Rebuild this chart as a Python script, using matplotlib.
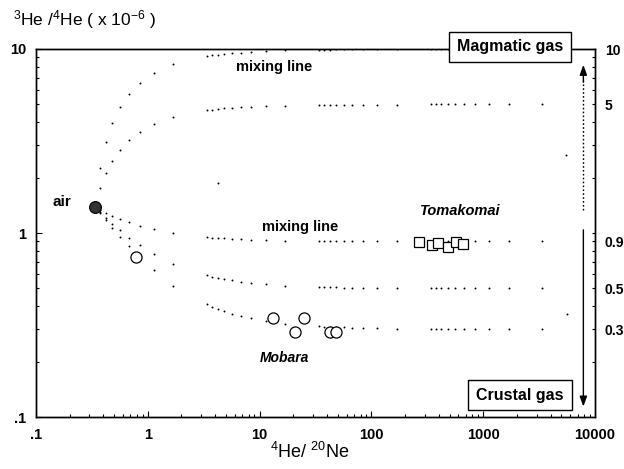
import matplotlib
matplotlib.use("Agg")
import matplotlib.pyplot as plt

plt.rcParams["font.family"] = ["Liberation Sans", "DejaVu Sans"]
plt.rcParams["mathtext.fontset"] = "custom"
plt.rcParams["mathtext.rm"] = "Liberation Sans"
plt.rcParams["mathtext.it"] = "Liberation Sans:italic"
plt.rcParams["mathtext.bf"] = "Liberation Sans:bold"

# abscisses des points des courbes de mélange
mix_x = [0.376, 0.423, 0.483, 0.563, 0.676, 0.845, 1.13, 1.69,
         3.38, 3.76, 4.23, 4.83, 5.63, 6.76, 8.45, 11.3, 16.9,
         33.8, 37.6, 42.3, 48.3, 56.3, 67.6, 84.5, 113, 169,
         338, 376, 423, 483, 563, 676, 845, 1127, 1690, 3380]

mix_10 = [2.25, 3.11, 3.97, 4.83, 5.70, 6.56, 7.42, 8.28,
          9.14, 9.23, 9.31, 9.40, 9.48, 9.57, 9.66, 9.74, 9.83,
          9.91, 9.92, 9.93, 9.94, 9.95, 9.96, 9.97, 9.97, 9.98,
          9.99, 9.99, 9.99, 9.99, 9.99, 10.0, 10.0, 10.0, 10.0, 10.0]
mix_5 = [1.75, 2.11, 2.47, 2.83, 3.20, 3.56, 3.92, 4.28,
         4.64, 4.68, 4.71, 4.75, 4.78, 4.82, 4.86, 4.89, 4.93,
         4.96, 4.97, 4.97, 4.97, 4.98, 4.98, 4.99, 4.99, 4.99,
         5.0, 5.0, 5.0, 5.0, 5.0, 5.0, 5.0, 5.0, 5.0, 5.0]
mix_09 = [1.341, 1.292, 1.243, 1.194, 1.145, 1.096, 1.047, 0.998,
          0.949, 0.944, 0.939, 0.934, 0.929, 0.925, 0.920, 0.915, 0.910,
          0.905, 0.904, 0.904, 0.903, 0.903, 0.902, 0.902, 0.901, 0.901,
          0.9, 0.9, 0.9, 0.9, 0.9, 0.9, 0.9, 0.9, 0.9, 0.9]
mix_05 = [1.301, 1.212, 1.123, 1.034, 0.945, 0.856, 0.767, 0.678,
          0.589, 0.580, 0.571, 0.562, 0.553, 0.545, 0.536, 0.527, 0.518,
          0.509, 0.508, 0.507, 0.506, 0.505, 0.504, 0.504, 0.503, 0.502,
          0.5, 0.5, 0.5, 0.5, 0.5, 0.5, 0.5, 0.5, 0.5, 0.5]
mix_03 = [1.281, 1.172, 1.063, 0.954, 0.845, 0.736, 0.627, 0.518,
          0.409, 0.398, 0.387, 0.376, 0.365, 0.355, 0.344, 0.333, 0.322,
          0.311, 0.310, 0.309, 0.308, 0.307, 0.305, 0.304, 0.303, 0.302,
          0.3, 0.3, 0.3, 0.3, 0.3, 0.3, 0.3, 0.3, 0.3, 0.3]

# points isolés
stray_x = [4.24, 5500, 5600]
stray_y = [1.86, 2.65, 0.363]

air_x, air_y = [0.338], [1.39]

circle_x = [0.79, 13.2, 20.9, 25.2, 43.0, 48.4]
circle_y = [0.738, 0.344, 0.289, 0.344, 0.291, 0.291]

toma_x = [264, 348, 391, 480, 570, 653]
toma_y = [0.897, 0.861, 0.886, 0.836, 0.897, 0.871]

right_ticks = [0.3, 0.5, 0.9, 5, 10]
right_labels = ["0.3", "0.5", "0.9", "5", "10"]
right_minor = [0.2, 0.4, 0.6, 0.7, 0.8, 1, 2, 3, 4, 6, 7, 8, 9]
x_ticks = [0.1, 1, 10, 100, 1000, 10000]
x_labels = [".1", "1", "10", "100", "1000", "10000"]
y_ticks = [0.1, 1, 10]
y_labels = [".1", "1", "10"]

fig = plt.figure(figsize=(6.24, 4.69), dpi=100)
ax = fig.add_axes([36 / 624, 52 / 469, 559 / 624, 368 / 469])
ax.set_xscale("log")
ax.set_yscale("log")
ax.set_xlim(0.1, 10000)
ax.set_ylim(0.1, 10)

for ys in (mix_10, mix_5, mix_09, mix_05, mix_03):
    ax.plot(mix_x, ys, linestyle="none", marker="o", markersize=1.4,
            color="black", markeredgewidth=0)
ax.plot(stray_x, stray_y, linestyle="none", marker="o", markersize=1.4,
        color="black", markeredgewidth=0)

ax.plot(air_x, air_y, linestyle="none", marker="o", markersize=8.5,
        markerfacecolor="#333333", markeredgecolor="black", markeredgewidth=0.8)
ax.plot(circle_x, circle_y, linestyle="none", marker="o", markersize=8,
        markerfacecolor="white", markeredgecolor="black", markeredgewidth=0.9)
ax.plot(toma_x, toma_y, linestyle="none", marker="s", markersize=7.5,
        markerfacecolor="white", markeredgecolor="black", markeredgewidth=0.9)

ax.set_xticks(x_ticks)
ax.set_xticklabels(x_labels)
ax.set_yticks(y_ticks)
ax.set_yticklabels(y_labels)
ax.tick_params(which="both", direction="in", top=False, right=False,
               labelsize=10.5, width=0.8)
ax.tick_params(which="major", length=4, pad=8)
ax.tick_params(which="minor", length=2.5)
ax.tick_params(axis="y", which="major", pad=7)
for lab in ax.get_xticklabels() + ax.get_yticklabels():
    lab.set_fontweight("bold")
ax.minorticks_on()
ax.xaxis.set_minor_formatter(plt.NullFormatter())
ax.yaxis.set_minor_formatter(plt.NullFormatter())

rax = ax.twinx()
rax.set_yscale("log")
rax.set_ylim(0.1, 10)
rax.set_yticks(right_ticks)
rax.set_yticklabels(right_labels)
rax.set_yticks(right_minor, minor=True)
rax.yaxis.set_minor_formatter(plt.NullFormatter())
rax.tick_params(which="both", direction="in", length=2.5, width=0.8,
                labelsize=10, pad=7)
for lab in rax.get_yticklabels():
    lab.set_fontweight("bold")

for a in (ax, rax):
    for sp in a.spines.values():
        sp.set_linewidth(1.0)

# flèches gaz magmatique / gaz crustal
arrow_x = 7870
ax.plot([arrow_x, arrow_x], [1.33, 6.8], linestyle=(0, (1.2, 1.6)),
        color="black", linewidth=1.0)
ax.annotate("", xy=(arrow_x, 8.2), xytext=(arrow_x, 6.6),
            arrowprops=dict(arrowstyle="-|>,head_length=0.6,head_width=0.22",
                            color="black", lw=1.0, shrinkA=0, shrinkB=0))
ax.annotate("", xy=(arrow_x, 0.114), xytext=(arrow_x, 1.04),
            arrowprops=dict(arrowstyle="-|>,head_length=0.6,head_width=0.22",
                            color="black", lw=1.0, shrinkA=0, shrinkB=0))

ax.text(6.2, 8.0, "mixing line", fontsize=10.5, fontweight="bold", va="center")
ax.text(10.5, 1.08, "mixing line", fontsize=10.5, fontweight="bold", va="center")
ax.text(0.141, 1.48, "air", fontsize=11, fontweight="bold", va="center")
ax.text(272, 1.317, "Tomakomai", fontsize=10.5, fontweight="bold",
        style="italic", va="center")
ax.text(10, 0.21, "Mobara", fontsize=10, fontweight="bold",
        style="italic", va="center")

box = dict(boxstyle="square,pad=0.5", facecolor="white", edgecolor="black",
           linewidth=1.0)
fig.text(510 / 624, 1 - 47 / 469, "Magmatic gas", fontsize=11.5,
         fontweight="bold", ha="center", va="center", bbox=box, zorder=10)
fig.text(520 / 624, 1 - 395 / 469, "Crustal gas", fontsize=11.5,
         fontweight="bold", ha="center", va="center", bbox=box, zorder=10)

fig.text(13 / 624, 1 - 20 / 469,
         r"$\mathregular{^{3}He\ /^{4}He\ (\ x\ 10^{-6}\ )}$",
         fontsize=12.5, ha="left", va="center")
fig.text(310 / 624, 1 - 452 / 469, r"$\mathregular{^{4}He/\ ^{20}Ne}$",
         fontsize=13, ha="center", va="center")

fig.savefig("out.png", dpi=100)
